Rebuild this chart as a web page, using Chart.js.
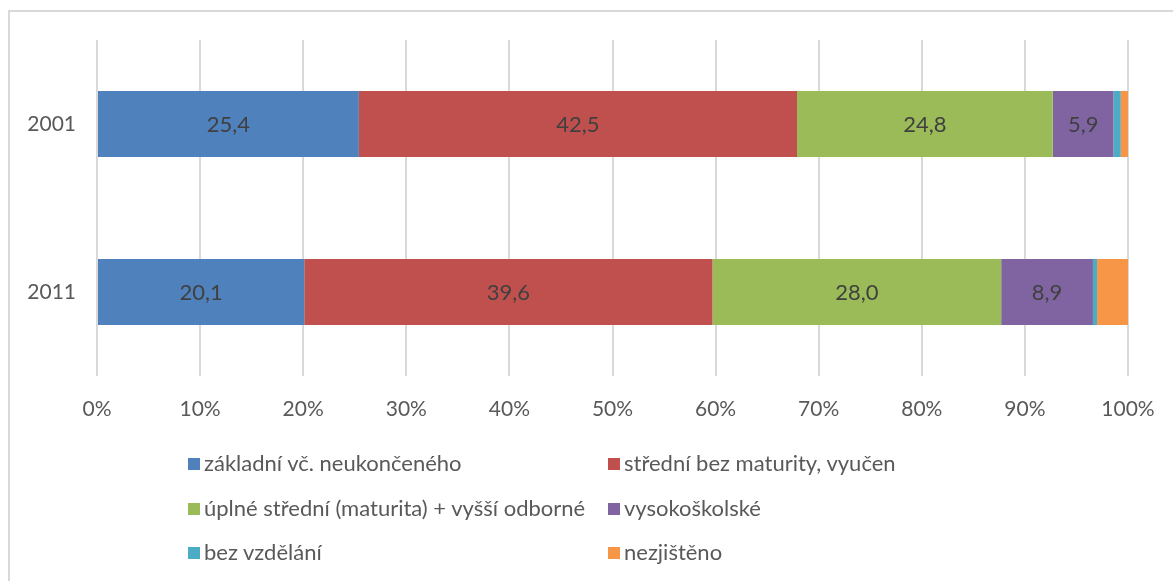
<!DOCTYPE html>
<html>
<head>
<meta charset="utf-8">
<script src="https://cdn.jsdelivr.net/npm/chart.js@4"></script>
<style>
    body { margin: 0; background: #fff; font-family: Lato, "Open Sans", sans-serif; }
    #frame { position: absolute; left: 8px; top: 10px; width: 1200px; height: 600px;
             border-left: 2px solid #d9d9d9; border-top: 2px solid #d9d9d9; }
    #wrap { position: absolute; left: 0; top: 0; width: 1173px; height: 430px; }
    #legend { position: absolute; left: 0; top: 0; width: 1173px; height: 581px; pointer-events: none; }
    .item { position: absolute; font-size: 22px; color: #595959; white-space: nowrap; line-height: 22px; }
    .box { display: inline-block; width: 12px; height: 12px; margin-right: 4px; vertical-align: 1px; }
</style>
</head>
<body>
<div id="frame"></div>
<div id="wrap"><canvas id="chart"></canvas></div>
<div id="legend"></div>

<script>
    const years = ["2001", "2011"];
    const seriesNames = [
        "základní vč. neukončeného",
        "střední bez maturity, vyučen",
        "úplné střední (maturita) + vyšší odborné",
        "vysokoškolské",
        "bez vzdělání",
        "nezjištěno"
    ];
    const zakladni = [25.4, 20.1];
    const stredni = [42.5, 39.6];
    const maturita = [24.8, 28.0];
    const vysoko = [5.9, 8.9];
    const bezVzdelani = [0.7, 0.4];
    const nezjisteno = [0.7, 3.0];
    const xTicks = [0, 10, 20, 30, 40, 50, 60, 70, 80, 90, 100];

    const colors = ["#4F81BD", "#C0504D", "#9BBB59", "#8064A2", "#4BACC6", "#F79646"];
    const values = [zakladni, stredni, maturita, vysoko, bezVzdelani, nezjisteno];
    // only the four big groups carry a value label
    const labelled = [true, true, true, true, false, false];
    const fontFamily = "Lato, 'Open Sans', sans-serif";

    const datasets = values.map((v, i) => ({
        label: seriesNames[i],
        data: v,
        backgroundColor: colors[i],
        borderWidth: 0,
        barPercentage: 0.6,
        categoryPercentage: 0.655
    }));

    // value labels centred in each segment
    const segmentLabels = {
        id: "segmentLabels",
        afterDatasetsDraw(chart) {
            const ctx = chart.ctx;
            ctx.save();
            ctx.font = "22px " + fontFamily;
            ctx.fillStyle = "#404040";
            ctx.textAlign = "center";
            ctx.textBaseline = "middle";
            chart.data.datasets.forEach((ds, i) => {
                if (!labelled[i]) return;
                chart.getDatasetMeta(i).data.forEach((bar, j) => {
                    const p = bar.getProps(["x", "y", "base"], true);
                    const txt = ds.data[j].toFixed(1).replace(".", ",");
                    ctx.fillText(txt, (p.x + p.base) / 2, p.y + 1);
                });
            });
            ctx.restore();
        }
    };

    const chart = new Chart(document.getElementById("chart"), {
        type: "bar",
        data: { labels: years, datasets: datasets },
        options: {
            indexAxis: "y",
            responsive: true,
            maintainAspectRatio: false,
            animation: false,
            layout: { padding: { left: 0, top: 40, right: 45, bottom: 0 } },
            plugins: { legend: { display: false }, tooltip: { enabled: false } },
            scales: {
                x: {
                    stacked: true,
                    min: 0,
                    max: 100,
                    afterBuildTicks: s => { s.ticks = xTicks.map(v => ({ value: v })); },
                    afterFit: s => {
                        s.height = 54;
                        // the 100% label may hang past the plot edge
                        s.paddingLeft = 0;
                        s.paddingRight = 0;
                    },
                    grid: { color: "#d9d9d9", lineWidth: 2, drawTicks: false },
                    border: { display: false },
                    ticks: {
                        padding: 21,
                        color: "#595959",
                        font: { family: fontFamily, size: 21 },
                        callback: v => v + "%"
                    }
                },
                y: {
                    stacked: true,
                    afterFit: s => { s.width = 97; },
                    grid: { display: false, drawTicks: false },
                    border: { display: false },
                    ticks: {
                        padding: 21,
                        color: "#595959",
                        font: { family: fontFamily, size: 21 }
                    }
                }
            }
        },
        plugins: [segmentLabels]
    });

    // legend laid out in two columns, three rows
    const legend = document.getElementById("legend");
    const colX = [188, 608];
    const rowY = [452, 497, 541];
    seriesNames.forEach((name, i) => {
        const el = document.createElement("div");
        el.className = "item";
        el.style.left = colX[i % 2] + "px";
        el.style.top = rowY[Math.floor(i / 2)] + "px";
        el.innerHTML = '<span class="box" style="background:' + colors[i] + '"></span>' + name;
        legend.appendChild(el);
    });
</script>
</body>
</html>
